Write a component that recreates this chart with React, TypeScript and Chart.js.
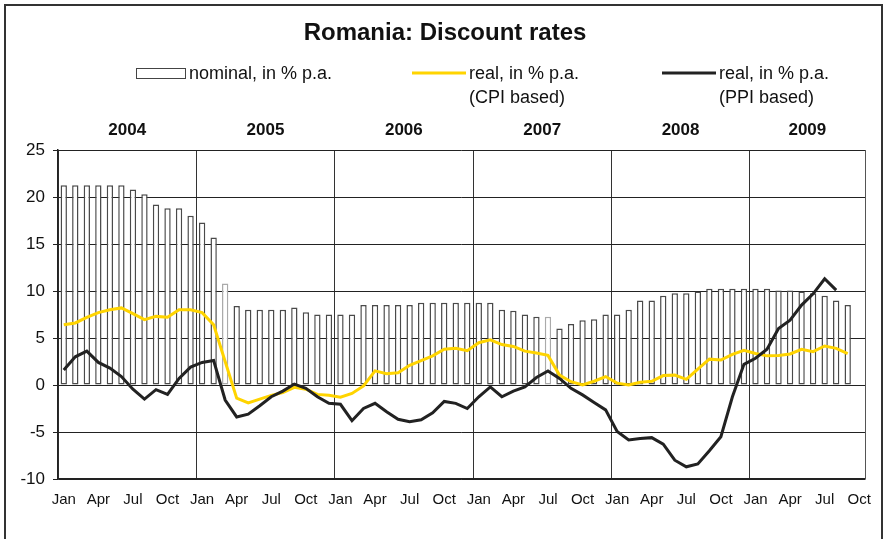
import React, { useEffect, useRef } from "react";
import { Chart, registerables } from "chart.js";

Chart.register(...registerables);

const years = [2004, 2005, 2006, 2007, 2008, 2009];
const monthNames = ["Jan", "Feb", "Mar", "Apr", "May", "Jun", "Jul", "Aug", "Sep", "Oct", "Nov", "Dec"];
const monthsInLastYear = 10; // axis runs Jan 2004 .. Oct 2009

const categories: string[] = [];
years.forEach((y, yi) => {
  const n = yi === years.length - 1 ? monthsInLastYear : 12;
  for (let m = 0; m < n; m++) categories.push(monthNames[m] + " " + y);
});

const nominal = [
  21.25, 21.25, 21.25, 21.25, 21.25, 21.25, 20.8, 20.3, 19.2, 18.8, 18.8, 18.0,
  17.3, 15.7, 10.8, 8.4, 8.0, 8.0, 8.0, 8.0, 8.25, 7.75, 7.5, 7.5,
  7.5, 7.5, 8.5, 8.5, 8.5, 8.5, 8.5, 8.75, 8.75, 8.75, 8.75, 8.75,
  8.75, 8.75, 8.0, 7.9, 7.5, 7.25, 7.25, 6.0, 6.5, 6.9, 7.0, 7.5,
  7.5, 8.0, 9.0, 9.0, 9.5, 9.75, 9.75, 9.95, 10.25, 10.25, 10.25, 10.25,
  10.25, 10.25, 10.05, 10.05, 9.95, 9.75, 9.5, 9.0, 8.5, null,
];

const realCPI = [
  6.4, 6.6, 7.2, 7.7, 8.0, 8.2, 7.6, 6.95, 7.3, 7.2, 8.0, 8.0,
  7.7, 6.4, 2.5, -1.4, -1.9, -1.5, -1.1, -0.8, -0.25, -0.45, -1.0, -1.1,
  -1.3, -0.9, -0.1, 1.5, 1.2, 1.3, 2.1, 2.6, 3.1, 3.8, 3.9, 3.65,
  4.5, 4.8, 4.3, 4.1, 3.6, 3.4, 3.15, 1.05, 0.35, 0.0, 0.4, 0.9,
  0.2, 0.0, 0.3, 0.4, 1.0, 1.05, 0.6, 1.7, 2.75, 2.65, 3.25, 3.7,
  3.35, 3.1, 3.15, 3.3, 3.8, 3.55, 4.15, 3.9, 3.35, null,
];

const realPPI = [
  1.6, 3.0, 3.6, 2.4, 1.8, 0.9, -0.45, -1.5, -0.5, -1.0, 0.7, 1.9,
  2.4, 2.6, -1.6, -3.4, -3.1, -2.2, -1.25, -0.65, 0.1, -0.35, -1.25, -1.95,
  -2.05, -3.8, -2.5, -1.95, -2.85, -3.65, -3.9, -3.7, -2.95, -1.75, -1.95, -2.5,
  -1.25, -0.2, -1.25, -0.65, -0.2, 0.8, 1.5, 0.7, -0.35, -1.05, -1.85, -2.65,
  -4.95, -5.85, -5.7, -5.6, -6.3, -8.0, -8.7, -8.4, -7.0, -5.5, -1.25, 2.2,
  2.85, 3.8, 6.0, 6.9, 8.5, 9.7, 11.3, 10.1, null, null,
];

const titleText = "Romania: Discount rates";
const legendNominal = ["nominal, in % p.a."];
const legendCPI = ["real, in % p.a.", "(CPI based)"];
const legendPPI = ["real, in % p.a.", "(PPI based)"];
const lightBars = ["Mar 2005", "Jul 2007"];

const FONT = '"Liberation Sans", Arial, Helvetica, sans-serif';
const YELLOW = "#FFD400";
const BLACK = "#222222";

const decorPlugin = {
  id: "decor",
  beforeDraw(chart: any) {
    const ctx = chart.ctx;
    ctx.save();
    ctx.fillStyle = "#ffffff";
    ctx.fillRect(0, 0, chart.width, chart.height);
    ctx.strokeStyle = "#333333";
    ctx.lineWidth = 2;
    ctx.beginPath();
    ctx.moveTo(5, chart.height + 5);
    ctx.lineTo(5, 5);
    ctx.lineTo(882, 5);
    ctx.lineTo(882, chart.height + 5);
    ctx.stroke();
    ctx.restore();
  },
  afterDraw(chart: any) {
    const ctx = chart.ctx;
    const area = chart.chartArea;
    const xs = chart.scales.x;
    ctx.save();
    ctx.strokeStyle = "#555555";
    ctx.lineWidth = 1;
    ctx.beginPath();
    ctx.moveTo(Math.round(area.right) + 0.5, area.top);
    ctx.lineTo(Math.round(area.right) + 0.5, area.bottom);
    ctx.stroke();

    ctx.fillStyle = "#111111";
    ctx.textBaseline = "middle";
    ctx.textAlign = "center";
    ctx.font = "bold 24px " + FONT;
    ctx.fillText(titleText, 445, 33);

    ctx.textAlign = "left";
    ctx.font = "18px " + FONT;
    ctx.fillStyle = "#ffffff";
    ctx.fillRect(136, 68, 49, 10);
    ctx.strokeStyle = "#444444";
    ctx.lineWidth = 1;
    ctx.strokeRect(136.5, 68.5, 49, 10);
    ctx.fillStyle = "#111111";
    legendNominal.forEach((t, i) => ctx.fillText(t, 189, 74 + i * 24));

    ctx.lineWidth = 3;
    ctx.strokeStyle = YELLOW;
    ctx.beginPath();
    ctx.moveTo(412, 73);
    ctx.lineTo(466, 73);
    ctx.stroke();
    legendCPI.forEach((t, i) => ctx.fillText(t, 469, 74 + i * 24));

    ctx.strokeStyle = BLACK;
    ctx.beginPath();
    ctx.moveTo(662, 73);
    ctx.lineTo(716, 73);
    ctx.stroke();
    legendPPI.forEach((t, i) => ctx.fillText(t, 719, 74 + i * 24));

    ctx.textAlign = "center";
    ctx.font = "bold 17px " + FONT;
    const catW = (xs.right - xs.left) / categories.length;
    years.forEach((y, yi) => {
      const start = xs.getPixelForValue(yi * 12) - catW / 2;
      const end = Math.min(start + 12 * catW, area.right);
      ctx.fillText(String(y), (start + end) / 2, 130);
    });
    ctx.restore();
  },
};

export default function App() {
  const ref = useRef<HTMLCanvasElement | null>(null);
  useEffect(() => {
    if (!ref.current) return;
    const chart = new Chart(ref.current, {
      type: "bar",
      data: {
        labels: categories,
        datasets: [
          {
            type: "line",
            label: "real, in % p.a. (PPI based)",
            data: realPPI,
            borderColor: BLACK,
            borderWidth: 3,
            pointRadius: 0,
            tension: 0,
            order: 1,
          } as any,
          {
            type: "line",
            label: "real, in % p.a. (CPI based)",
            data: realCPI,
            borderColor: YELLOW,
            borderWidth: 3,
            pointRadius: 0,
            tension: 0,
            order: 2,
          } as any,
          {
            type: "bar",
            label: "nominal, in % p.a.",
            data: nominal,
            backgroundColor: "#ffffff",
            borderColor: (c: any) => (lightBars.includes(categories[c.dataIndex]) ? "#aaaaaa" : "#4a4a4a"),
            borderWidth: 1.5,
            borderSkipped: false,
            barPercentage: 0.55,
            categoryPercentage: 1,
            order: 3,
          } as any,
        ],
      },
      options: {
        animation: false,
        responsive: false,
        maintainAspectRatio: false,
        layout: { padding: { top: 150, right: 23, left: 0, bottom: 0 } },
        plugins: {
          legend: { display: false },
          title: { display: false },
          tooltip: { enabled: false },
        },
        scales: {
          x: {
            offset: true,
            grid: {
              offset: true,
              drawTicks: false,
              color: (c: any) => (c.index % 12 === 0 ? "#333333" : "rgba(0,0,0,0)"),
              lineWidth: 1,
            },
            border: { display: true, color: "#222222", width: 1.5 },
            ticks: {
              autoSkip: false,
              maxRotation: 0,
              minRotation: 0,
              padding: 12,
              color: "#111111",
              font: { family: FONT, size: 15 },
              callback: (_v: any, i: number) => (i % 3 === 0 ? categories[i].split(" ")[0] : ""),
            },
            afterFit: (s: any) => {
              s.height = 60;
            },
          },
          y: {
            min: -10,
            max: 25,
            ticks: {
              stepSize: 5,
              padding: 8,
              color: "#111111",
              font: { family: FONT, size: 17 },
            },
            grid: { color: "#222222", lineWidth: 1, tickLength: 5 },
            border: { display: true, color: "#222222", width: 1.5 },
            afterFit: (s: any) => {
              s.width = 58;
            },
          },
        },
      },
      plugins: [decorPlugin],
    } as any);
    return () => chart.destroy();
  }, []);
  return (
    <div style={{ position: "fixed", left: 0, top: 0, width: 888, height: 539, background: "#fff" }}>
      <canvas ref={ref} width={888} height={539} style={{ display: "block", width: 888, height: 539 }} />
    </div>
  );
}
